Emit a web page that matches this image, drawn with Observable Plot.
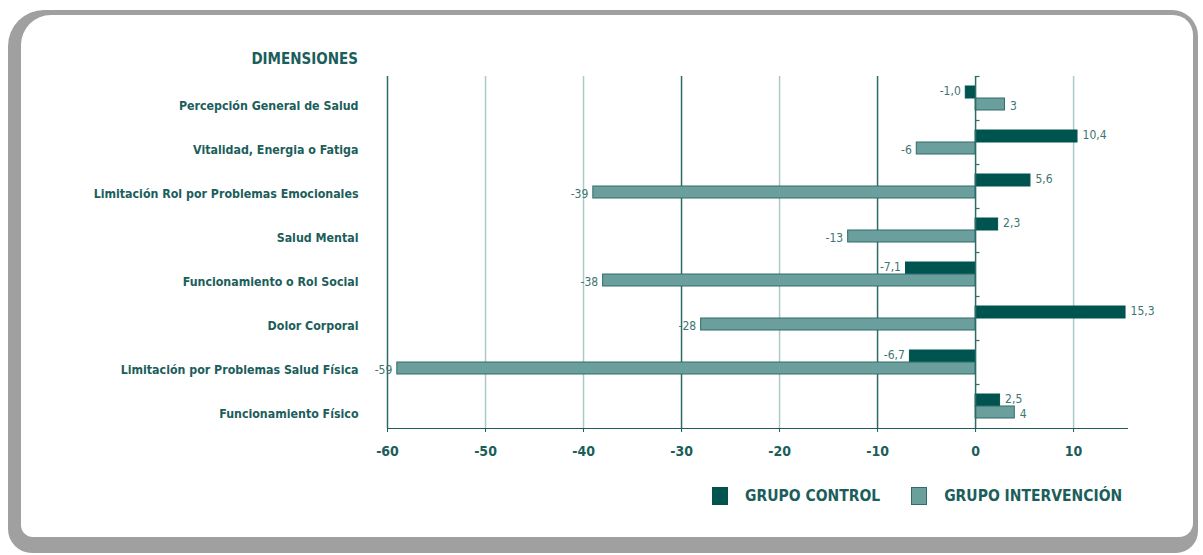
<!DOCTYPE html>
<html>
<head>
<meta charset="utf-8">
<script src="https://cdn.jsdelivr.net/npm/d3@7"></script>
<script src="https://cdn.jsdelivr.net/npm/@observablehq/plot@0.6"></script>
<style>
  html, body { margin: 0; padding: 0; background: #ffffff; }
  #wrap { position: relative; width: 1203px; height: 555px; overflow: hidden; background: #fff;
          font-family: "Liberation Sans Narrow", "DejaVu Sans Condensed", "Liberation Sans", sans-serif; color: #1b5e5b; }
  .outer { position: absolute; left: 8px; top: 10px; width: 1190px; height: 543px; background: #a0a0a0;
           border-radius: 36px 26px 22px 24px; }
  .inner { position: absolute; left: 21px; top: 15px; width: 1172px; height: 522px; background: #ffffff;
           border-radius: 30px 20px 14px 12px; }
  #chart { position: absolute; left: 0; top: 0; }
  .dim { position: absolute; right: 845px; top: 50px; font-weight: bold; font-size: 15px; color: #1b5e5b; }
  .legend { position: absolute; top: 487px; left: 712px; display: flex; align-items: center; font-size: 15.5px; font-weight: bold; color: #1b5e5b; }
  .legend .sw { width: 16px; height: 18px; display: inline-block; margin-right: 17px; }
  .legend .item { display: flex; align-items: center; margin-right: 31px; }
</style>
</head>
<body>
<div id="wrap">
  <div class="outer"></div>
  <div class="inner"></div>
  <div id="chart"></div>
  <div class="dim">DIMENSIONES</div>
  <div class="legend" id="legend"></div>
</div>
<script>
const categories = [
  "Percepción General de Salud",
  "Vitalidad, Energia o Fatiga",
  "Limitación Rol por Problemas Emocionales",
  "Salud Mental",
  "Funcionamiento o Rol Social",
  "Dolor Corporal",
  "Limitación por Problemas Salud Física",
  "Funcionamiento Físico"
];
const grupoControl = [-1.0, 10.4, 5.6, 2.3, -7.1, 15.3, -6.7, 2.5];
const grupoIntervencion = [3, -6, -39, -13, -38, -28, -59, 4];
const groups = ["GRUPO CONTROL", "GRUPO INTERVENCIÓN"];
const xTicks = [-60, -50, -40, -30, -20, -10, 0, 10];

const colControl = "#005450";
const colInterv = "#6b9f9d";
const strokeInterv = "#2e6d6a";
const teal = "#1b5e5b";
const darkGrid = "#2b6b68";
const lightGrid = "#a9cac8";
const darkGridTicks = [-30, -10];

const fmtC = v => v.toFixed(1).replace(".", ",");
const fmtI = v => String(v);

const data = categories.flatMap((c, i) => [
  {category: c, group: groups[0], value: grupoControl[i], label: fmtC(grupoControl[i])},
  {category: c, group: groups[1], value: grupoIntervencion[i], label: fmtI(grupoIntervencion[i])}
]);

const isC = d => d.group === groups[0];
const isI = d => d.group === groups[1];
const fontStack = '"Liberation Sans Narrow", "DejaVu Sans Condensed", "Liberation Sans", sans-serif';
const valueLabel = (filter, anchor, dx, dy) => Plot.text(data, {filter, x: "value", y: "group", text: "label", textAnchor: anchor, dx, dy, fill: "#3e7472", fontSize: 12, fontWeight: "normal"});

const chart = Plot.plot({
  width: 1203,
  height: 555,
  marginLeft: 387,
  marginRight: 76,
  marginTop: 74,
  marginBottom: 125,
  style: {background: "transparent", color: teal, fontFamily: fontStack, fontSize: "14px", fontWeight: "bold", overflow: "visible"},
  x: {domain: [-60, 15.5], ticks: xTicks, tickFormat: d => String(d), tickSize: 4, tickPadding: 14, line: true, label: null},
  y: {domain: groups, axis: null, paddingInner: 0, paddingOuter: 0.78},
  fy: {domain: categories, axis: null, padding: 0},
  facet: {data, y: "category"},
  marks: [
    Plot.ruleX(xTicks.filter(t => t !== -60 && t !== 0 && !darkGridTicks.includes(t)), {stroke: lightGrid, strokeWidth: 1.5}),
    Plot.ruleX(darkGridTicks, {stroke: darkGrid, strokeWidth: 1.5}),
    Plot.ruleX([-60], {stroke: darkGrid, strokeWidth: 1.5}),
    Plot.barX(data, {filter: isC, x: "value", y: "group", fill: colControl, stroke: colControl, strokeWidth: 1}),
    Plot.barX(data, {filter: isI, x: "value", y: "group", fill: colInterv, stroke: strokeInterv, strokeWidth: 1}),
    Plot.ruleX([0], {stroke: darkGrid, strokeWidth: 1.5}),
    Plot.ruleY(data, {filter: isC, y: "group", x1: 0, x2: 0.45, dy: -16, stroke: darkGrid, strokeWidth: 1.2}),
    valueLabel(d => isC(d) && d.value >= 0, "start", 5, -1.5),
    valueLabel(d => isC(d) && d.value < 0, "end", -5, -1.5),
    valueLabel(d => isI(d) && d.value >= 0, "start", 5, 1.5),
    valueLabel(d => isI(d) && d.value < 0, "end", -5, 1.5),
    Plot.text(data, {filter: isC, frameAnchor: "left", text: "category", textAnchor: "end", dx: -29, dy: 8, fill: teal, fontSize: 12.3, fontWeight: "bold"})
  ]
});
document.getElementById("chart").appendChild(chart);

const legend = document.getElementById("legend");
[[groups[0], colControl, colControl], [groups[1], colInterv, strokeInterv]].forEach(([name, fill, stroke]) => {
  const item = document.createElement("div");
  item.className = "item";
  const sw = document.createElement("span");
  sw.className = "sw";
  sw.style.background = fill;
  sw.style.boxShadow = "inset 0 0 0 1px " + stroke;
  const t = document.createElement("span");
  t.textContent = name;
  item.appendChild(sw);
  item.appendChild(t);
  legend.appendChild(item);
});
</script>
</body>
</html>
